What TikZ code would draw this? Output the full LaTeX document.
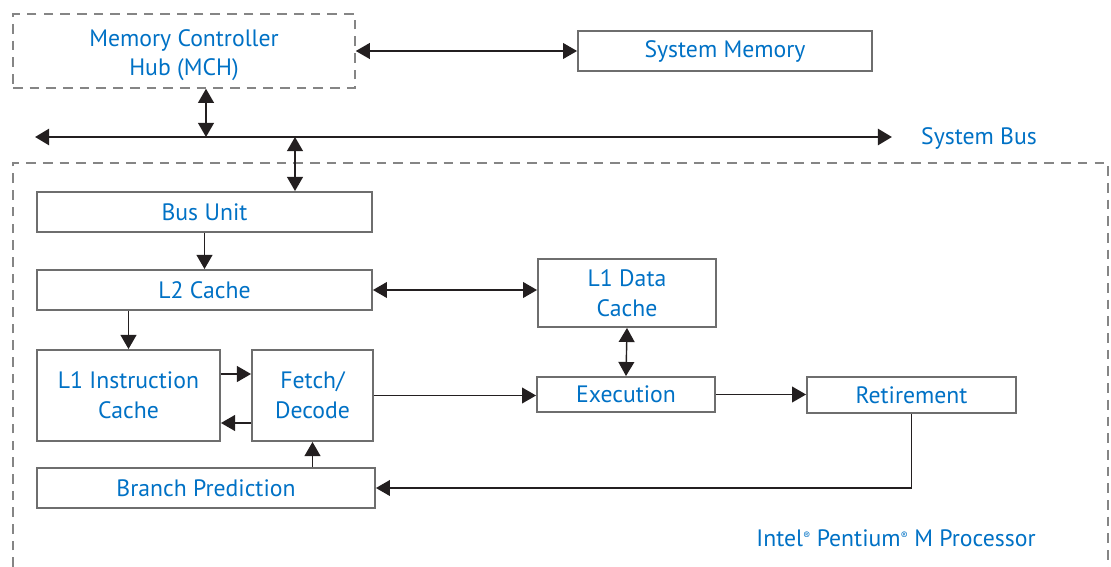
\documentclass[tikz,border=0pt]{standalone}
\usepackage{fontspec}
\setmainfont{PT Sans}
\usetikzlibrary{arrows.meta}
\definecolor{intelblue}{HTML}{0071C5}
\definecolor{boxgray}{HTML}{6E6E6E}
\definecolor{dashgray}{HTML}{858585}
\definecolor{arrowblack}{HTML}{231F20}
\newcommand{\regmark}{\raisebox{0.6ex}{\fontsize{6}{6}\selectfont ®}}

\begin{document}
\begin{tikzpicture}[x=0.02cm, y=-0.02cm, >={Triangle[length=8pt,width=9pt]}]
        \tikzstyle{every node}=[text=intelblue, font=\fontsize{13.5}{17}\selectfont, align=center, inner sep=0pt]
        \tikzstyle{block}=[rectangle, draw=boxgray, line width=1.1pt]
        \tikzstyle{hub}=[rectangle, draw=dashgray, line width=0.9pt, dash pattern=on 5.5pt off 4pt]
        \tikzstyle{link}=[draw=arrowblack, line width=0.8pt]
        \tikzstyle{bus}=[draw=arrowblack, line width=1.7pt]
        \useasboundingbox (0,0) rectangle (1111,567);

        \node[hub, minimum width=6.84cm, minimum height=1.48cm] (MCH) at (184,51) {\raisebox{-2.5pt}[\height][\depth]{\shortstack{Memory Controller\\[1pt]Hub (MCH)}}};
        \node[block, minimum width=5.88cm, minimum height=0.8cm] (SysMem) at (725,51) {System Memory};
        \node[block, minimum width=6.7cm, minimum height=0.8cm] (BusUnit) at (204.5,212) {Bus Unit};
        \node[block, minimum width=6.7cm, minimum height=0.8cm] (L2) at (204.5,290) {L2 Cache};
        \node[block, minimum width=3.56cm, minimum height=1.36cm] (L1D) at (627,293) {L1 Data\\Cache};
        \node[block, minimum width=3.56cm, minimum height=0.7cm] (Exec) at (626,394.5) {Execution};
        \node[block, minimum width=3.66cm, minimum height=1.82cm] (L1I) at (128.5,395.5) {L1 Instruction\\Cache};
        \node[block, minimum width=2.42cm, minimum height=1.82cm] (FD) at (312.5,395.5) {Fetch/\\Decode};
        \node[block, minimum width=4.18cm, minimum height=0.72cm] (Ret) at (911.5,395) {Retirement};
        \node[block, minimum width=6.76cm, minimum height=0.8cm] (Branch) at (206,488) {Branch Prediction};
        \node (BusLabel) at (979,138) {System Bus};
        \node (CpuLabel) at (896,538) {Intel\regmark{} Pentium\regmark{} M Processor};

        % processor outline, open at the bottom
        \draw[hub] (13,567) -- (13,163) -- (1108,163) -- (1108,567);

        % system bus
        \coordinate (BusL) at (35,137);
        \coordinate (BusR) at (892,137);
        \coordinate (TapA) at (206,137);
        \coordinate (TapB) at (295,137);
        \draw[bus, <->] (BusL) -- (BusR);

        \draw[link, <->] (MCH.east) -- (SysMem.west);
        \draw[link, <->] (MCH.south -| TapA) -- (TapA);
        \draw[link, <->] (TapB) -- (TapB |- BusUnit.north);
        \draw[link, ->] (BusUnit.south) -- (L2.north);
        \draw[link, <->] (L2.east) -- (L2.east -| L1D.west);
        \draw[link, <->] (L1D.south) -- (Exec.north);
        \draw[link, ->] (L2.south -| L1I.north) -- (L1I.north);
        \draw[link, ->] ([yshift=0.43cm]L1I.east) -- ([yshift=0.43cm]L1I.east -| FD.west);
        \draw[link, ->] ([yshift=-0.55cm]FD.west) -- ([yshift=-0.55cm]FD.west -| L1I.east);
        \draw[link, ->] (FD.east) -- (FD.east -| Exec.west);
        \draw[link, ->] (Exec.east) -- (Exec.east -| Ret.west);
        \draw[link, ->] (Ret.south) |- (Branch.east);
        \draw[link, ->] (Branch.north -| FD.south) -- (FD.south);
\end{tikzpicture}
\end{document}
